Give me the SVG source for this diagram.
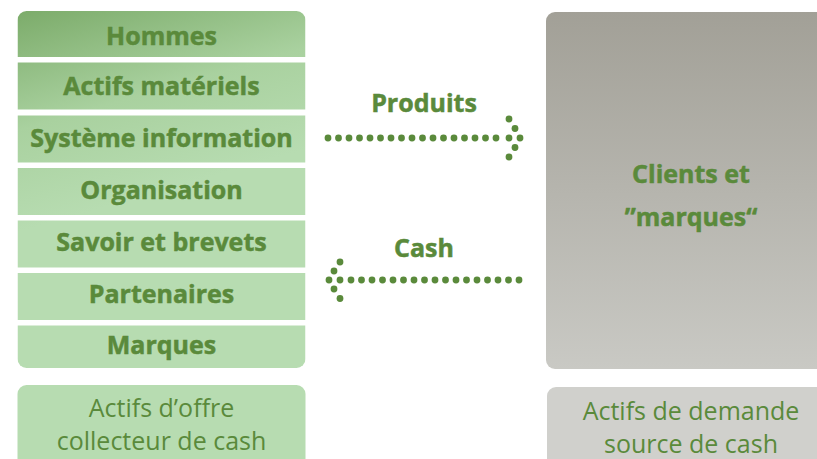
<svg xmlns="http://www.w3.org/2000/svg" width="817" height="459" viewBox="0 0 817 459">
<defs>
<linearGradient id="gstack" gradientUnits="userSpaceOnUse" x1="0" y1="11" x2="60" y2="220">
<stop offset="0" stop-color="#7aaa68"/>
<stop offset="0.55" stop-color="#a9d19f"/>
<stop offset="1" stop-color="#b7dcb1"/>
</linearGradient>
<linearGradient id="ggrey" x1="0" y1="0" x2="0" y2="1">
<stop offset="0" stop-color="#a2a097"/>
<stop offset="1" stop-color="#c9c9c4"/>
</linearGradient>
<clipPath id="stackclip"><rect x="17.5" y="11" width="288" height="357" rx="9"/></clipPath>
</defs>
<style>
.lbl{font-family:"Open Sans",Lato,"Liberation Sans",sans-serif;font-weight:bold;font-size:25px;fill:#5a8a3b;stroke:#5a8a3b;stroke-width:0.5;text-anchor:middle}
.reg{font-family:"Open Sans",Lato,"Liberation Sans",sans-serif;font-size:25px;fill:#5a8a3b;text-anchor:middle}
.row{fill:url(#gstack)}
.dots circle{fill:#5a8a3b}
</style>
<rect width="817" height="459" fill="#ffffff"/>

<g id="stack" clip-path="url(#stackclip)">
<g id="n-hommes"><rect class="row" x="17.5" y="11" width="288" height="46"/><text class="lbl" x="161.5" y="45">Hommes</text></g>
<g id="n-actifs"><rect class="row" x="17.5" y="62.5" width="288" height="47"/><text class="lbl" x="161.5" y="95">Actifs matériels</text></g>
<g id="n-systeme"><rect class="row" x="17.5" y="115.5" width="288" height="47"/><text class="lbl" x="161.5" y="147">Système information</text></g>
<g id="n-organisation"><rect class="row" x="17.5" y="168" width="288" height="47"/><text class="lbl" x="161.5" y="199">Organisation</text></g>
<g id="n-savoir"><rect class="row" x="17.5" y="220.5" width="288" height="47"/><text class="lbl" x="161.5" y="251">Savoir et brevets</text></g>
<g id="n-partenaires"><rect class="row" x="17.5" y="273" width="288" height="47"/><text class="lbl" x="161.5" y="303">Partenaires</text></g>
<g id="n-marques"><rect class="row" x="17.5" y="325.5" width="288" height="43"/><text class="lbl" x="161.5" y="354">Marques</text></g>
</g>

<g id="n-offre">
<rect x="17.5" y="385" width="288" height="90" rx="9" fill="#b7dcb1"/>
<text class="reg" x="161.5" y="417">Actifs d’offre</text>
<text class="reg" x="161.5" y="450">collecteur de cash</text>
</g>

<g id="n-clients">
<rect x="546" y="12" width="290" height="357" rx="9" fill="url(#ggrey)"/>
<text class="lbl" x="691" y="183">Clients et</text>
<text class="lbl" x="691" y="226">”marques“</text>
</g>

<g id="n-demande">
<rect x="547" y="387" width="290" height="90" rx="9" fill="#d0d0cc"/>
<text class="reg" x="691" y="420">Actifs de demande</text>
<text class="reg" x="691" y="453">source de cash</text>
</g>

<g id="connectors">
<g id="c-produits" class="dots">
<circle cx="328" cy="138" r="3.4"/><circle cx="338.5" cy="138" r="3.4"/><circle cx="349" cy="138" r="3.4"/><circle cx="359.5" cy="138" r="3.4"/><circle cx="370" cy="138" r="3.4"/><circle cx="380.5" cy="138" r="3.4"/><circle cx="391" cy="138" r="3.4"/><circle cx="401.5" cy="138" r="3.4"/><circle cx="412" cy="138" r="3.4"/><circle cx="422.5" cy="138" r="3.4"/><circle cx="433" cy="138" r="3.4"/><circle cx="443.5" cy="138" r="3.4"/><circle cx="454" cy="138" r="3.4"/><circle cx="464.5" cy="138" r="3.4"/><circle cx="475" cy="138" r="3.4"/><circle cx="485.5" cy="138" r="3.4"/><circle cx="496" cy="138" r="3.4"/><circle cx="509" cy="138" r="3.4"/><circle cx="520" cy="138" r="3.4"/>
<circle cx="509" cy="119" r="3.4"/><circle cx="515" cy="128.5" r="3.4"/><circle cx="515" cy="147.5" r="3.4"/><circle cx="509" cy="157" r="3.4"/>
</g>
<text class="lbl" x="424" y="112">Produits</text>
<g id="c-cash" class="dots">
<circle cx="329" cy="280" r="3.4"/><circle cx="340" cy="280" r="3.4"/><circle cx="351" cy="280" r="3.4"/><circle cx="361.5" cy="280" r="3.4"/><circle cx="372" cy="280" r="3.4"/><circle cx="382.5" cy="280" r="3.4"/><circle cx="393" cy="280" r="3.4"/><circle cx="403.5" cy="280" r="3.4"/><circle cx="414" cy="280" r="3.4"/><circle cx="424.5" cy="280" r="3.4"/><circle cx="435" cy="280" r="3.4"/><circle cx="445.5" cy="280" r="3.4"/><circle cx="456" cy="280" r="3.4"/><circle cx="466.5" cy="280" r="3.4"/><circle cx="477" cy="280" r="3.4"/><circle cx="487.5" cy="280" r="3.4"/><circle cx="498" cy="280" r="3.4"/><circle cx="508.5" cy="280" r="3.4"/><circle cx="519" cy="280" r="3.4"/>
<circle cx="340" cy="262" r="3.4"/><circle cx="334" cy="271" r="3.4"/><circle cx="334" cy="289" r="3.4"/><circle cx="340" cy="298.5" r="3.4"/>
</g>
<text class="lbl" x="424" y="257">Cash</text>
</g>
</svg>
